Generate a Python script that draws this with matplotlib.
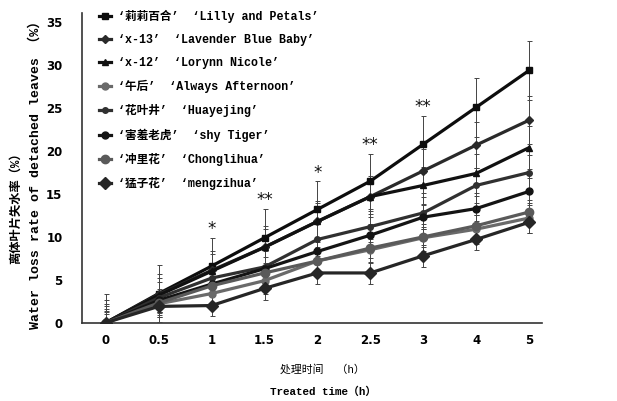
import matplotlib
matplotlib.use("Agg")
import matplotlib.pyplot as plt
from matplotlib.lines import Line2D

# Treatment time categories (h)
times = ["0", "0.5", "1", "1.5", "2", "2.5", "3", "4", "5"]

cultivar_cn = ["莉莉百合", "x-13", "x-12", "午后", "花叶井", "害羞老虎", "冲里花", "猛子花"]
cultivar_en = ["Lilly and Petals", "Lavender Blue Baby", "Lorynn Nicole",
               "Always Afternoon", "Huayejing", "shy Tiger", "Chonglihua", "mengzihua"]

# Water loss rate of detached leaves (%)
lilly = [0, 3.4, 6.6, 9.9, 13.2, 16.5, 20.8, 25.1, 29.4]
lavender = [0, 3.3, 6.1, 8.8, 11.8, 14.7, 17.7, 20.7, 23.6]
lorynn = [0, 3.2, 6.0, 8.8, 11.8, 14.7, 16.0, 17.4, 20.4]
afternoon = [0, 2.2, 3.4, 4.9, 7.2, 8.5, 9.9, 10.9, 12.2]
huayejing = [0, 2.9, 5.2, 6.5, 9.7, 11.2, 12.8, 16.0, 17.5]
shy_tiger = [0, 2.6, 4.5, 6.3, 8.3, 10.2, 12.3, 13.3, 15.3]
chonglihua = [0, 2.3, 4.3, 5.8, 7.2, 8.7, 10.0, 11.3, 12.9]
mengzihua = [0, 1.9, 2.0, 4.0, 5.8, 5.8, 7.8, 9.7, 11.7]

# Standard deviations
lilly_sd = [3.4, 3.3, 3.3, 3.4, 3.3, 3.2, 3.3, 3.4, 3.4]
lavender_sd = [2.6, 2.4, 2.3, 2.5, 2.4, 2.4, 2.6, 2.7, 2.8]
lorynn_sd = [2.2, 2.0, 2.0, 2.1, 2.2, 2.0, 2.2, 2.3, 2.5]
afternoon_sd = [1.6, 1.5, 1.4, 1.5, 1.6, 1.5, 1.6, 1.7, 1.8]
huayejing_sd = [1.9, 1.8, 1.7, 1.8, 1.9, 1.8, 1.9, 2.0, 2.1]
shy_tiger_sd = [1.4, 1.3, 1.3, 1.4, 1.4, 1.3, 1.4, 1.5, 1.6]
chonglihua_sd = [1.2, 1.1, 1.1, 1.2, 1.2, 1.1, 1.2, 1.3, 1.4]
mengzihua_sd = [1.0, 1.2, 1.2, 1.3, 1.3, 1.3, 1.3, 1.2, 1.3]

# Significance marks at selected time points
sig_times = ["1", "1.5", "2", "2.5", "3"]
sig_marks = ["*", "**", "*", "**", "**"]

series = [lilly, lavender, lorynn, afternoon, huayejing, shy_tiger, chonglihua, mengzihua]
errors = [lilly_sd, lavender_sd, lorynn_sd, afternoon_sd, huayejing_sd,
          shy_tiger_sd, chonglihua_sd, mengzihua_sd]
colors = ["#0d0d0d", "#2a2a2a", "#111111", "#6a6a6a", "#303030", "#141414", "#5a5a5a", "#262626"]
markers = ["s", "D", "^", "o", "o", "o", "o", "D"]
msizes = [5, 4, 5, 5, 4, 5, 6, 6]

W, H = 617, 401
fig = plt.figure(figsize=(W / 100, H / 100), dpi=100)
ax = fig.add_axes([82 / W, 1 - 322.7 / H, (541.7 - 82) / W, (322.7 - 13) / H])

xpos = list(range(len(times)))
for vals, err, c, m, ms in zip(series, errors, colors, markers, msizes):
    ax.errorbar(xpos, vals, yerr=err, color=c, ecolor="#444444", elinewidth=0.7,
                capsize=1.8, capthick=0.7, lw=2.3, marker=m, ms=ms, zorder=3)

# significance asterisks above the tallest error bar
for t, mark in zip(sig_times, sig_marks):
    i = times.index(t)
    top = max(v[i] + e[i] for v, e in zip(series, errors))
    ax.text(i, top + 1.0, mark, ha="center", va="center", fontsize=12,
            family="DejaVu Sans", color="#111111")

ax.set_xlim(-0.45, 8.24)
ax.set_ylim(0, 36.1)
ax.set_xticks(xpos)
ax.set_xticklabels(times)
ax.set_yticks([0, 5, 10, 15, 20, 25, 30, 35])
ax.tick_params(axis="both", length=0, labelsize=8.5)
ax.tick_params(axis="x", pad=8)
ax.tick_params(axis="y", pad=14)
for lab in ax.get_xticklabels() + ax.get_yticklabels():
    lab.set_fontweight("bold")
    lab.set_family("DejaVu Sans")
for s in ["top", "right"]:
    ax.spines[s].set_visible(False)
for s in ["left", "bottom"]:
    ax.spines[s].set_linewidth(1.2)
    ax.spines[s].set_color("#333333")

fam = ["Liberation Mono", "Noto Sans CJK SC"]
handles = [Line2D([0], [0], color=c, lw=2.3, marker=m, ms=ms)
           for c, m, ms in zip(colors, markers, msizes)]
labels = [f"‘{cn}’  ‘{en}’" for cn, en in zip(cultivar_cn, cultivar_en)]
leg = ax.legend(handles, labels, loc="upper left", bbox_to_anchor=(93 / W, 1 - 4 / H),
                bbox_transform=fig.transFigure, frameon=False, borderpad=0,
                handlelength=1.0, handletextpad=0.6, labelspacing=0.95,
                prop={"family": fam, "size": 8.4, "weight": "bold"})

fig.text(322 / W, 1 - 370 / H, "处理时间  （h）", ha="center", va="center",
         fontsize=7.8, family=fam)
fig.text(323 / W, 1 - 392 / H, "Treated time（h）", ha="center", va="center",
         fontsize=7.8, family=fam, weight="bold")
fig.text(16 / W, 1 - 205 / H, "离体叶片失水率（%）", ha="center", va="center",
         rotation=90, fontsize=8.8, family=fam, weight="bold")
fig.text(35 / W, 1 - 172 / H, "Water loss rate of detached leaves （%）", ha="center",
         va="center", rotation=90, fontsize=9.5, family=fam, weight="bold")

fig.savefig("out.png", dpi=100)
